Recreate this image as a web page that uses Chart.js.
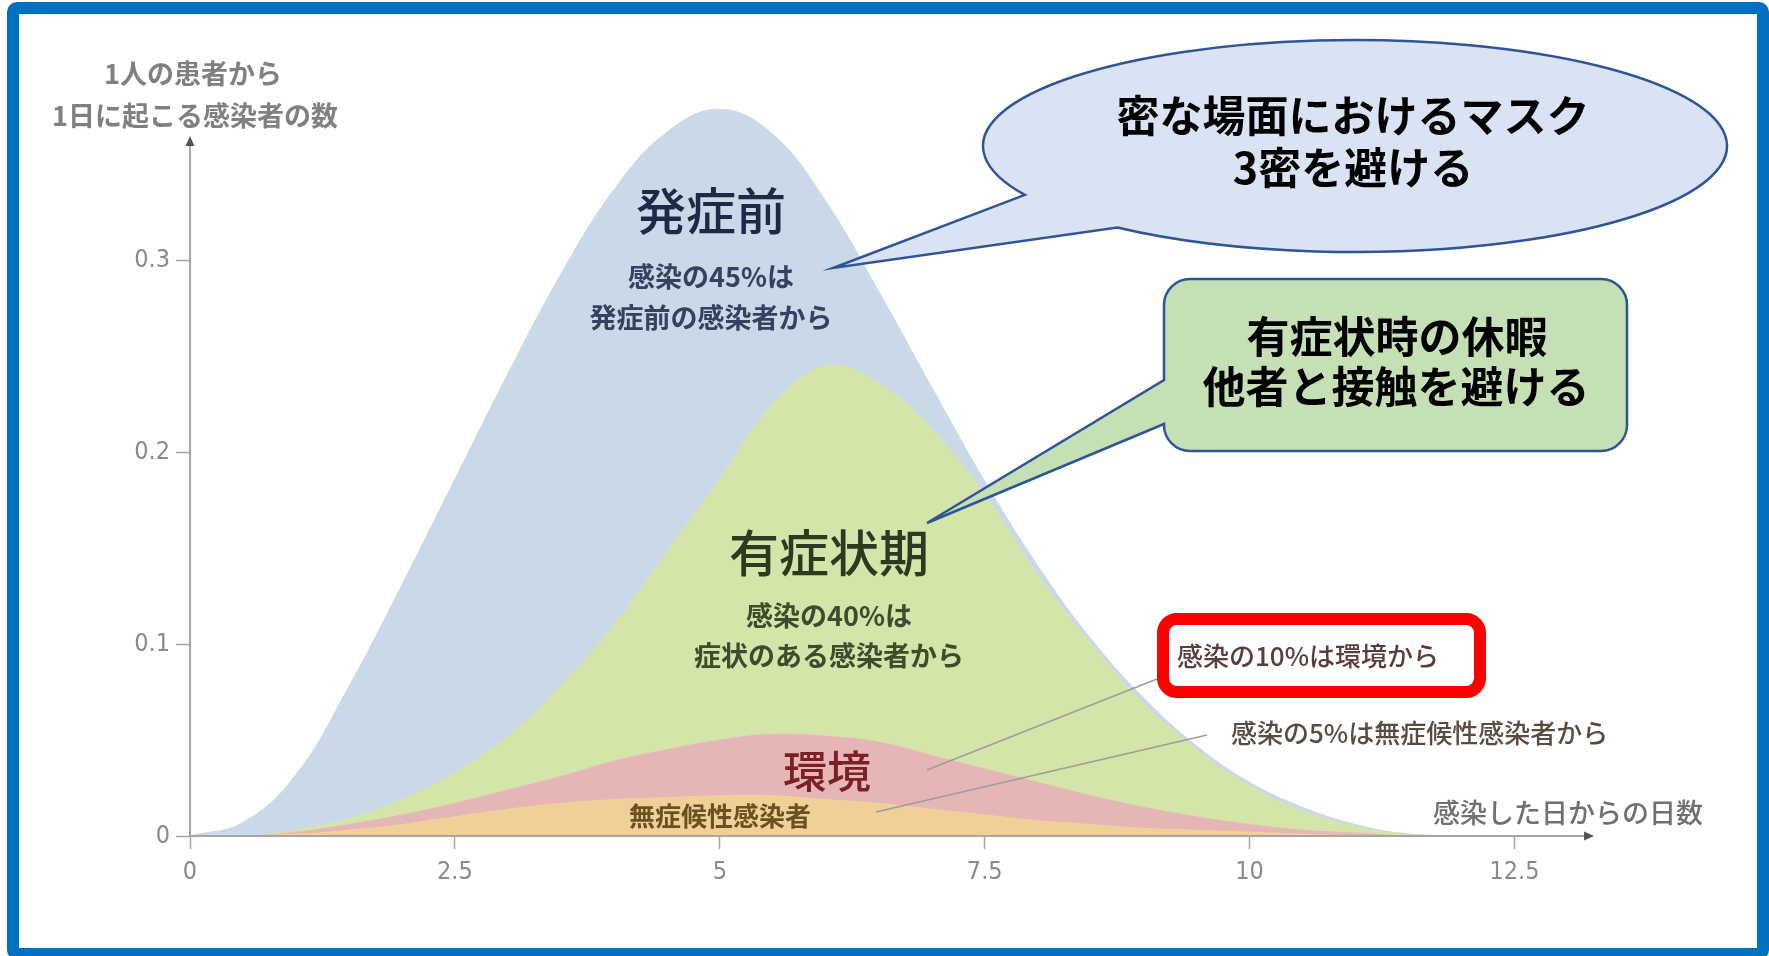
<!DOCTYPE html>
<html lang="ja">
<head>
<meta charset="utf-8">
<title>感染した日からの日数と1日に起こる感染者の数</title>
<script src="https://cdn.jsdelivr.net/npm/chart.js@4.4.1/dist/chart.umd.min.js"></script>
<style>
  html, body { margin: 0; padding: 0; background: #ffffff; overflow: hidden; }
  #wrap { position: relative; width: 1769px; height: 956px; }
  #chart { position: absolute; left: 0; top: 0; }
  #frame {
    position: absolute; left: 7px; top: 2px;
    width: 1738px; height: 934px;
    border: 12px solid #0070c0; border-radius: 10px;
    pointer-events: none;
  }
</style>
</head>
<body>
<div id="wrap">
  <canvas id="chart" width="1769" height="956"></canvas>
  <div id="frame"></div>
</div>
<script>
// 感染した日からの日数
const days = [0, 0.5, 1, 1.5, 2, 2.5, 3, 3.5, 4, 4.5, 5, 5.5, 6, 6.5, 7, 7.5, 8, 8.5, 9, 9.5, 10, 10.5, 11, 11.5, 12];

// 1日に起こる感染者の数（感染経路ごと、下から積み上げ）
const asymptomatic   = [0, 0, 0.001, 0.003, 0.006, 0.010, 0.014, 0.017, 0.019, 0.020, 0.021, 0.021, 0.019, 0.017, 0.014, 0.011, 0.008, 0.006, 0.004, 0.003, 0.002, 0.001, 0, 0, 0];
const environmental  = [0, 0, 0.001, 0.003, 0.005, 0.007, 0.010, 0.014, 0.020, 0.025, 0.029, 0.032, 0.033, 0.032, 0.028, 0.024, 0.020, 0.015, 0.011, 0.007, 0.004, 0.002, 0.0015, 0, 0];
const symptomatic    = [0, 0, 0.001, 0.003, 0.008, 0.016, 0.028, 0.047, 0.071, 0.103, 0.136, 0.172, 0.193, 0.187, 0.170, 0.143, 0.108, 0.079, 0.054, 0.035, 0.020, 0.010, 0.0035, 0.001, 0];
const presymptomatic = [0, 0.007, 0.029, 0.069, 0.112, 0.153, 0.189, 0.215, 0.227, 0.219, 0.193, 0.141, 0.086, 0.048, 0.022, 0.007, 0.005, 0.003, 0.003, 0.002, 0.002, 0.002, 0.001, 0, 0];

const seriesNames  = ['無症候性感染者', '環境', '有症状期', '発症前'];
const seriesColors = ['#f0cf98', '#e6b6b7', '#d4e5a9', '#c9d9e8'];

// 目盛り
const xTicks = [0, 2.5, 5, 7.5, 10, 12.5];
const xTickLabels = ['0', '2.5', '5', '7.5', '10', '12.5'];
const yTicks = [0, 0.1, 0.2, 0.3];
const yTickLabels = ['0', '0.1', '0.2', '0.3'];

// 軸の矢印の先端（データ座標）
const X_AXIS_END = 13.25;
const Y_AXIS_END = 0.365;

const JP = '"Noto Sans CJK JP", "Noto Sans CJK SC", sans-serif';
const NUM = '"Liberation Sans Narrow", "DejaVu Sans Condensed", "Liberation Sans", sans-serif';

const toPoints = arr => days.map((d, i) => ({ x: d, y: arr[i] }));
const seriesValues = [asymptomatic, environmental, symptomatic, presymptomatic];

const datasets = seriesValues.map((vals, i) => ({
  label: seriesNames[i],
  data: toPoints(vals),
  backgroundColor: seriesColors[i],
  borderColor: seriesColors[i],
  borderWidth: 1,
  pointRadius: 0,
  fill: i === 0 ? 'origin' : '-1',
  tension: 0.4
}));

function label(ctx, str, x, y, font, color, align) {
  ctx.font = font;
  ctx.fillStyle = color;
  ctx.textAlign = align || 'center';
  ctx.textBaseline = 'middle';
  ctx.fillText(str, x, y);
}

function roundRectPath(ctx, x, y, w, h, r) {
  ctx.beginPath();
  ctx.moveTo(x + r, y);
  ctx.lineTo(x + w - r, y);
  ctx.arcTo(x + w, y, x + w, y + r, r);
  ctx.lineTo(x + w, y + h - r);
  ctx.arcTo(x + w, y + h, x + w - r, y + h, r);
  ctx.lineTo(x + r, y + h);
  ctx.arcTo(x, y + h, x, y + h - r, r);
  ctx.lineTo(x, y + r);
  ctx.arcTo(x, y, x + r, y, r);
  ctx.closePath();
}

// 軸線と矢印
const axesPlugin = {
  id: 'arrowAxes',
  afterDatasetsDraw(chart) {
    const { ctx, scales: { x, y } } = chart;
    const x0 = x.getPixelForValue(0), y0 = y.getPixelForValue(0);
    const xe = x.getPixelForValue(X_AXIS_END), ye = y.getPixelForValue(Y_AXIS_END);
    ctx.save();
    ctx.strokeStyle = '#a6a6a6';
    ctx.lineWidth = 2;
    ctx.beginPath();
    ctx.moveTo(x0, y0);
    ctx.lineTo(xe - 8, y0);
    ctx.moveTo(x0, y0);
    ctx.lineTo(x0, ye + 8);
    ctx.stroke();
    ctx.fillStyle = '#555555';
    ctx.beginPath();
    ctx.moveTo(xe, y0);
    ctx.lineTo(xe - 10, y0 - 4.5);
    ctx.lineTo(xe - 10, y0 + 4.5);
    ctx.closePath();
    ctx.fill();
    ctx.beginPath();
    ctx.moveTo(x0, ye);
    ctx.lineTo(x0 - 4.5, ye + 10);
    ctx.lineTo(x0 + 4.5, ye + 10);
    ctx.closePath();
    ctx.fill();
    ctx.restore();
  }
};

// 区分の名前・説明・吹き出し
const notesPlugin = {
  id: 'notes',
  afterDraw(chart) {
    const ctx = chart.ctx;
    ctx.save();

    // 軸の名前
    label(ctx, '1人の患者から', 193, 74, `bold 27px ${JP}`, '#808080');
    label(ctx, '1日に起こる感染者の数', 195, 116, `bold 27px ${JP}`, '#808080');
    label(ctx, '感染した日からの日数', 1433, 813, `500 27px ${JP}`, '#707070', 'left');

    // 区分の名前
    label(ctx, '発症前', 711, 211, `500 50px ${JP}`, '#1e2a45');
    label(ctx, '感染の45%は', 711, 277, `bold 27px ${JP}`, '#34415f');
    label(ctx, '発症前の感染者から', 711, 318, `bold 27px ${JP}`, '#34415f');

    label(ctx, '有症状期', 829, 553, `500 50px ${JP}`, '#2d3a20');
    label(ctx, '感染の40%は', 829, 616, `bold 27px ${JP}`, '#3e4b2c');
    label(ctx, '症状のある感染者から', 829, 656, `bold 27px ${JP}`, '#3e4b2c');

    label(ctx, '環境', 827, 771, `500 44px ${JP}`, '#7b2027');
    label(ctx, '無症候性感染者', 720, 816, `bold 26px ${JP}`, '#6d5022');

    // 引き出し線
    ctx.strokeStyle = '#9c9c9c';
    ctx.lineWidth = 1.5;
    ctx.beginPath();
    ctx.moveTo(927, 770); ctx.lineTo(1162, 677);
    ctx.moveTo(876, 812); ctx.lineTo(1207, 735);
    ctx.stroke();

    // 赤枠
    roundRectPath(ctx, 1163, 619, 317, 73, 14);
    ctx.fillStyle = '#ffffff';
    ctx.fill();
    ctx.strokeStyle = '#ff0000';
    ctx.lineWidth = 12;
    ctx.stroke();
    label(ctx, '感染の10%は環境から', 1177, 656, `500 26px ${JP}`, '#5b3c3c', 'left');
    label(ctx, '感染の5%は無症候性感染者から', 1231, 733, `500 26px ${JP}`, '#5a4b40', 'left');

    // 楕円の吹き出し
    const cx = 1355, cy = 146, rx = 372, ry = 106;
    const a1 = Math.atan2((195 - cy) / ry, (1024 - cx) / rx);
    const a2 = Math.atan2((228 - cy) / ry, (1116 - cx) / rx);
    ctx.beginPath();
    ctx.ellipse(cx, cy, rx, ry, 0, a1, a2 + Math.PI * 2);
    ctx.lineTo(833, 268);
    ctx.closePath();
    ctx.fillStyle = '#dae3f3';
    ctx.fill();
    ctx.strokeStyle = '#2f5597';
    ctx.lineWidth = 2.5;
    ctx.stroke();
    label(ctx, '密な場面におけるマスク', 1353, 116, `bold 43px ${JP}`, '#000000');
    label(ctx, '3密を避ける', 1353, 168, `bold 43px ${JP}`, '#000000');

    // 角丸四角の吹き出し
    const bx = 1164, by = 279, bw = 463, bh = 172, br = 26;
    ctx.beginPath();
    ctx.moveTo(bx + br, by);
    ctx.lineTo(bx + bw - br, by);
    ctx.arcTo(bx + bw, by, bx + bw, by + br, br);
    ctx.lineTo(bx + bw, by + bh - br);
    ctx.arcTo(bx + bw, by + bh, bx + bw - br, by + bh, br);
    ctx.lineTo(bx + br, by + bh);
    ctx.arcTo(bx, by + bh, bx, by + bh - br, br);
    ctx.lineTo(bx, 424);
    ctx.lineTo(927, 523);
    ctx.lineTo(bx, 380);
    ctx.lineTo(bx, by + br);
    ctx.arcTo(bx, by, bx + br, by, br);
    ctx.closePath();
    ctx.fillStyle = '#c5e0b4';
    ctx.fill();
    ctx.strokeStyle = '#2f5597';
    ctx.lineWidth = 2.5;
    ctx.stroke();
    label(ctx, '有症状時の休暇', 1397, 337, `bold 43px ${JP}`, '#000000');
    label(ctx, '他者と接触を避ける', 1396, 387, `bold 43px ${JP}`, '#000000');

    ctx.restore();
  }
};

new Chart(document.getElementById('chart'), {
  type: 'line',
  data: { datasets },
  options: {
    responsive: false,
    animation: false,
    events: [],
    layout: { padding: { left: 0, right: 175, top: 69, bottom: 60 } },
    plugins: {
      legend: { display: false },
      tooltip: { enabled: false }
    },
    scales: {
      x: {
        type: 'linear',
        min: 0,
        max: X_AXIS_END,
        afterBuildTicks: s => { s.ticks = xTicks.map(v => ({ value: v })); },
        afterFit: s => { s.height = 60; },
        border: { display: false },
        grid: { drawOnChartArea: false, drawTicks: true, tickLength: 13, tickColor: '#a6a6a6', tickWidth: 1.5 },
        ticks: {
          autoSkip: false, maxRotation: 0, padding: 8,
          color: '#8a8a8a', font: { family: NUM, size: 25 },
          callback: v => xTickLabels[xTicks.indexOf(v)]
        }
      },
      y: {
        stacked: true,
        min: 0,
        max: 0.4,
        afterBuildTicks: s => { s.ticks = yTicks.map(v => ({ value: v })); },
        afterFit: s => { s.width = 190; },
        border: { display: false },
        grid: { drawOnChartArea: false, drawTicks: true, tickLength: 14, tickColor: '#a6a6a6', tickWidth: 1.5 },
        ticks: {
          padding: 6,
          color: '#8a8a8a', font: { family: NUM, size: 25 },
          callback: v => yTickLabels[yTicks.indexOf(v)]
        }
      }
    }
  },
  plugins: [axesPlugin, notesPlugin]
});
</script>
</body>
</html>
